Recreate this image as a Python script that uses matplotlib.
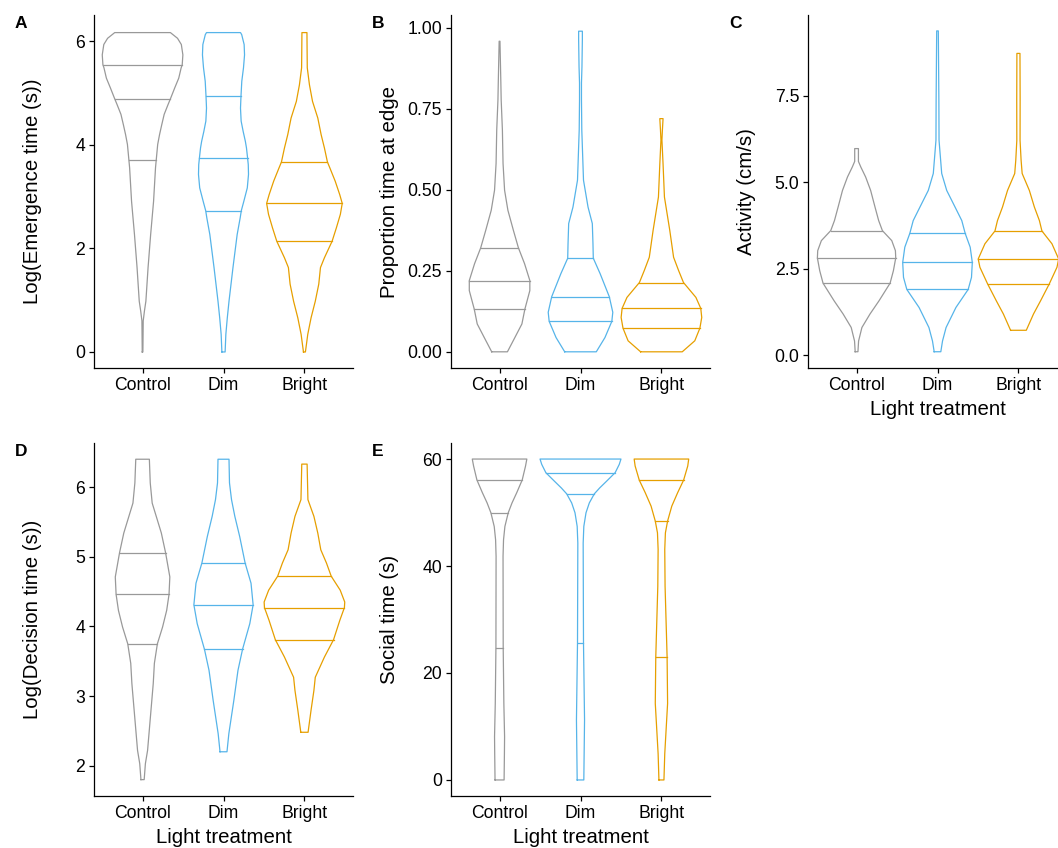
"""Violin plots of behaviour under three light treatments (panels A-E)."""
import matplotlib
matplotlib.use("Agg")
import matplotlib.pyplot as plt
import numpy as np

GROUPS = ["Control", "Dim", "Bright"]
COLORS = ["#999999", "#56B4E9", "#E69F00"]

# violin outlines: (value, half width in x units), bottom to top
A_CONTROL = [(0.0, 0.004), (0.6, 0.008), (0.79, 0.023), (0.98, 0.041), (1.63, 0.068),
             (2.27, 0.10), (2.91, 0.136), (3.56, 0.16), (3.71, 0.169), (4.01, 0.187),
             (4.2, 0.21), (4.39, 0.237), (4.59, 0.267), (4.78, 0.315), (4.89, 0.344),
             (5.10, 0.397), (5.29, 0.447), (5.49, 0.477), (5.55, 0.49), (5.74, 0.498),
             (5.94, 0.479), (6.06, 0.432), (6.17, 0.344)]
A_DIM = [(0.0, 0.02), (0.34, 0.029), (0.66, 0.047), (0.98, 0.068), (1.63, 0.117),
         (2.27, 0.169), (2.59, 0.206), (2.73, 0.22), (2.91, 0.251), (3.17, 0.294),
         (3.43, 0.309), (3.62, 0.306), (3.74, 0.298), (3.94, 0.284), (4.07, 0.27),
         (4.26, 0.243), (4.46, 0.218), (4.71, 0.21), (4.94, 0.216), (5.23, 0.226),
         (5.49, 0.247), (5.74, 0.26), (5.94, 0.255), (6.13, 0.225), (6.17, 0.21)]
A_BRIGHT = [(0.0, 0.012), (0.15, 0.025), (0.34, 0.041), (0.66, 0.082), (0.98, 0.134),
            (1.31, 0.177), (1.63, 0.198), (1.82, 0.247), (2.14, 0.342), (2.40, 0.395),
            (2.66, 0.444), (2.87, 0.467), (3.04, 0.436), (3.3, 0.38), (3.56, 0.313),
            (3.67, 0.284), (3.94, 0.247), (4.2, 0.206), (4.52, 0.165), (4.84, 0.10),
            (5.16, 0.062), (5.49, 0.035), (5.81, 0.033), (6.17, 0.031)]
A_QUARTILES = [[3.71, 4.89, 5.55], [2.73, 3.74, 4.94], [2.14, 2.87, 3.67]]

B_CONTROL = [(0.0, 0.097), (0.044, 0.189), (0.086, 0.276), (0.132, 0.313), (0.189, 0.374),
             (0.22, 0.374), (0.272, 0.309), (0.321, 0.233), (0.375, 0.171), (0.437, 0.103),
             (0.499, 0.062), (0.582, 0.043), (0.685, 0.035), (0.778, 0.02), (0.83, 0.016),
             (0.959, 0.005)]
B_DIM = [(0.0, 0.195), (0.044, 0.302), (0.094, 0.387), (0.122, 0.399), (0.17, 0.356),
         (0.241, 0.243), (0.289, 0.158), (0.334, 0.154), (0.396, 0.146), (0.447, 0.093),
         (0.53, 0.037), (0.685, 0.016), (0.778, 0.012), (0.83, 0.012), (0.88, 0.018),
         (0.964, 0.023), (0.99, 0.023)]
B_BRIGHT = [(0.0, 0.257), (0.034, 0.412), (0.073, 0.475), (0.106, 0.498), (0.134, 0.486),
            (0.168, 0.426), (0.214, 0.272), (0.251, 0.212), (0.292, 0.15), (0.375, 0.103),
            (0.478, 0.037), (0.58, 0.02), (0.654, 0.006), (0.685, 0.012), (0.72, 0.02)]
B_QUARTILES = [[0.132, 0.22, 0.321], [0.094, 0.17, 0.289], [0.073, 0.134, 0.214]]

C_CONTROL = [(0.1, 0.017), (0.41, 0.025), (0.80, 0.066), (1.19, 0.166), (1.57, 0.277),
             (2.08, 0.414), (2.44, 0.455), (2.81, 0.484), (3.02, 0.48), (3.31, 0.435),
             (3.60, 0.319), (3.89, 0.273), (4.28, 0.228), (4.76, 0.174), (5.15, 0.112),
             (5.44, 0.052), (5.6, 0.023), (5.97, 0.023)]
C_DIM = [(0.1, 0.041), (0.41, 0.062), (0.80, 0.106), (1.38, 0.228), (1.90, 0.379),
         (2.25, 0.42), (2.68, 0.43), (3.12, 0.404), (3.52, 0.342), (3.89, 0.3),
         (4.28, 0.217), (4.76, 0.114), (5.25, 0.052), (6.21, 0.019), (7.37, 0.017),
         (9.37, 0.01)]
C_BRIGHT = [(0.72, 0.097), (1.19, 0.186), (1.57, 0.273), (2.06, 0.381), (2.54, 0.476),
            (2.78, 0.497), (3.22, 0.414), (3.59, 0.29), (3.89, 0.259), (4.28, 0.197),
            (4.76, 0.135), (5.25, 0.046), (5.63, 0.033), (6.21, 0.02), (7.37, 0.021),
            (8.72, 0.019)]
C_QUARTILES = [[2.08, 2.81, 3.60], [1.90, 2.68, 3.52], [2.06, 2.78, 3.59]]

D_CONTROL = [(1.8, 0.02), (2.03, 0.035), (2.22, 0.062), (2.70, 0.097), (3.18, 0.132),
             (3.47, 0.146), (3.75, 0.183), (3.99, 0.247), (4.23, 0.298), (4.46, 0.327),
             (4.71, 0.337), (5.06, 0.284), (5.34, 0.232), (5.58, 0.169), (5.77, 0.119),
             (6.06, 0.095), (6.40, 0.084)]
D_DIM = [(2.2, 0.043), (2.46, 0.066), (2.94, 0.128), (3.37, 0.179), (3.67, 0.235),
         (4.04, 0.325), (4.31, 0.366), (4.62, 0.34), (4.91, 0.267), (5.29, 0.2),
         (5.58, 0.14), (5.82, 0.099), (6.06, 0.074), (6.40, 0.068)]
D_BRIGHT = [(2.48, 0.045), (2.80, 0.082), (3.08, 0.117), (3.27, 0.134), (3.56, 0.247),
            (3.81, 0.36), (4.09, 0.438), (4.27, 0.494), (4.35, 0.498), (4.52, 0.442),
            (4.72, 0.331), (4.91, 0.272), (5.10, 0.202), (5.34, 0.165), (5.58, 0.117),
            (5.82, 0.043), (6.33, 0.033)]
D_QUARTILES = [[3.75, 4.46, 5.06], [3.67, 4.31, 4.91], [3.81, 4.27, 4.72]]

E_CONTROL = [(0.0, 0.056), (4.9, 0.06), (8.1, 0.062), (14.3, 0.053), (24.7, 0.045),
             (41.8, 0.043), (44.9, 0.049), (47.4, 0.066), (49.95, 0.107), (51.8, 0.154),
             (53.7, 0.212), (56.1, 0.28), (58.7, 0.321), (60.0, 0.337)]
E_DIM = [(0.0, 0.041), (11.2, 0.05), (25.6, 0.037), (44.3, 0.033), (47.4, 0.041),
         (49.95, 0.068), (51.8, 0.109), (53.5, 0.171), (54.6, 0.237), (55.9, 0.325),
         (57.45, 0.428), (59.0, 0.479), (60.0, 0.5)]
E_BRIGHT = [(0.0, 0.031), (4.9, 0.041), (14.3, 0.076), (23.0, 0.07), (36.2, 0.045),
            (43.1, 0.041), (46.2, 0.049), (48.4, 0.076), (51.2, 0.128), (53.7, 0.2),
            (56.06, 0.274), (58.7, 0.325), (60.0, 0.337)]
E_QUARTILES = [[24.7, 49.95, 56.1], [25.6, 53.5, 57.45], [23.0, 48.4, 56.06]]

A_TICKS = [0, 2, 4, 6]
B_TICKS = [0.0, 0.25, 0.5, 0.75, 1.0]
C_TICKS = [0.0, 2.5, 5.0, 7.5]
D_TICKS = [2, 3, 4, 5, 6]
E_TICKS = [0, 20, 40, 60]

W, H = 1058, 848


def setup_style():
    plt.rcParams.update({
        "font.family": ["Liberation Sans", "DejaVu Sans"],
        "font.size": 12.7,
        "axes.linewidth": 0.9,
        "axes.spines.top": False, "axes.spines.right": False,
        "xtick.major.size": 3.8, "ytick.major.size": 3.8,
        "xtick.major.width": 0.9, "ytick.major.width": 0.9,
        "xtick.major.pad": 2.5, "ytick.major.pad": 2.5,
        "xtick.labelsize": 12.7, "ytick.labelsize": 12.7,
        "axes.labelsize": 14.7,
    })


def violin(ax, pos, profile, quartiles, color):
    ys = np.array([p[0] for p in profile])
    ws = np.array([p[1] for p in profile])
    xs = np.concatenate([pos - ws, (pos + ws)[::-1], [pos - ws[0]]])
    yy = np.concatenate([ys, ys[::-1], [ys[0]]])
    ax.plot(xs, yy, color=color, lw=0.9, solid_joinstyle="round")
    for q in quartiles:
        hw = np.interp(q, ys, ws)
        ax.plot([pos - hw, pos + hw], [q, q], color=color, lw=0.9)


def panel(fig, left, top, letter, profiles, quartiles, ticks, fmt, ylim, ylabel,
          xlabel=None):
    ax = fig.add_axes([left / W, 1 - (top + 353) / H, 259 / W, 353 / H])
    for i, (prof, quart, color) in enumerate(zip(profiles, quartiles, COLORS)):
        violin(ax, i + 1, prof, quart, color)
    ax.set_xlim(0.4, 3.6)
    ax.set_ylim(*ylim)
    ax.set_xticks([1, 2, 3], GROUPS)
    ax.set_yticks(ticks, [fmt.format(t) for t in ticks])
    ax.set_ylabel(ylabel, va="center")
    ax.yaxis.set_label_coords(-0.237, 0.5)
    if xlabel:
        ax.set_xlabel(xlabel, va="center")
        ax.xaxis.set_label_coords(0.5, -0.118)
    fig.text((left - 79) / W, 1 - (top + 8) / H, letter, fontsize=12.5,
             fontweight="bold", ha="left", va="center")
    return ax


def main():
    setup_style()
    fig = plt.figure(figsize=(W / 100, H / 100), dpi=100)
    panel(fig, 94, 15, "A", [A_CONTROL, A_DIM, A_BRIGHT], A_QUARTILES, A_TICKS,
          "{:g}", (-0.31, 6.51), "Log(Emergence time (s))")
    panel(fig, 451, 15, "B", [B_CONTROL, B_DIM, B_BRIGHT], B_QUARTILES, B_TICKS,
          "{:.2f}", (-0.05, 1.04), "Proportion time at edge")
    panel(fig, 808, 15, "C", [C_CONTROL, C_DIM, C_BRIGHT], C_QUARTILES, C_TICKS,
          "{:.1f}", (-0.37, 9.83), "Activity (cm/s)", "Light treatment")
    panel(fig, 94, 443, "D", [D_CONTROL, D_DIM, D_BRIGHT], D_QUARTILES, D_TICKS,
          "{:g}", (1.565, 6.633), "Log(Decision time (s))", "Light treatment")
    panel(fig, 451, 443, "E", [E_CONTROL, E_DIM, E_BRIGHT], E_QUARTILES, E_TICKS,
          "{:g}", (-3, 63), "Social time (s)", "Light treatment")
    fig.savefig("out.png", dpi=100, facecolor="white")
    plt.close(fig)


if __name__ == "__main__":
    main()
